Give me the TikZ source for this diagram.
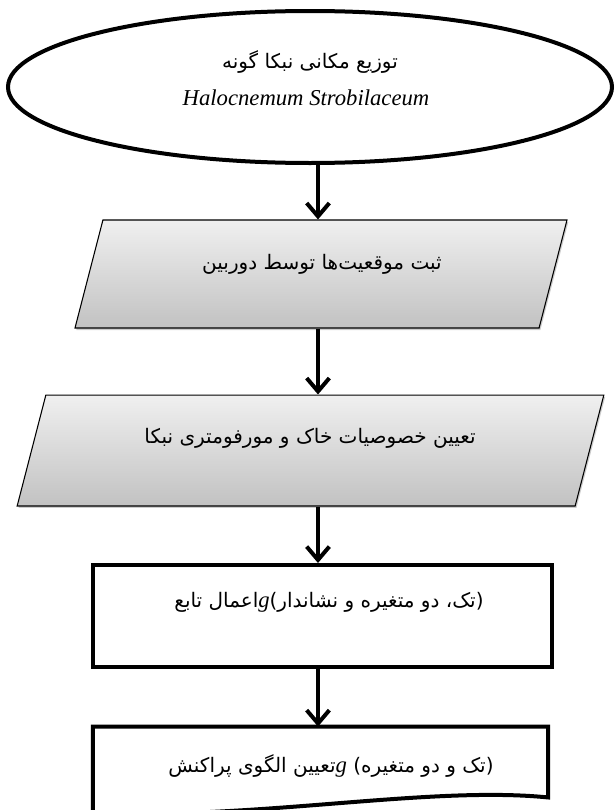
\documentclass[tikz,border=0pt]{standalone}
\usepackage{fontspec}
\setmainfont{Liberation Serif}
\newfontfamily\fafont[Script=Arabic]{DejaVu Sans}
\TeXXeTstate=1
\usetikzlibrary{shapes.geometric, arrows.meta, shadows}
\tikzset{
  latin/.style     = {font=\fontsize{17}{20}\selectfont},         % latin line
  farsi/.style     = {font=\fafont\fontsize{15}{18}\selectfont},  % persian lines
  startnode/.style = {ellipse, draw, line width=3pt,
                      minimum width=453pt, minimum height=114pt},
  iobox/.style     = {trapezium, trapezium stretches body,
                      trapezium left angle=75.5, trapezium right angle=104.5,
                      draw, line width=0.8pt, top color=gray!12, bottom color=gray!48,
                      drop shadow={shadow xshift=1pt, shadow yshift=-1.5pt, opacity=.4}},
  procbox/.style   = {rectangle, draw, line width=3pt, fill=white,
                      drop shadow={shadow xshift=1pt, shadow yshift=-1pt, opacity=.3}},
  flowline/.style  = {line width=3pt, -{Straight Barb[length=10pt, width=17pt]}}
}

\begin{document}
\begin{tikzpicture}[x=0.75pt, y=-0.75pt]
  \useasboundingbox (0,0) rectangle (616,810);
  % shapes
  \node[startnode] (ell) at (310,87) {};
  \node[iobox, minimum width=369pt, inner ysep=40.5pt] (b1) at (321,274) {};
  \node[iobox, minimum width=440pt, inner ysep=41.6pt] (b2) at (310.5,450.5) {};
  \node[procbox, minimum width=344pt, minimum height=76.5pt] (b3) at (322.5,616) {};
  \node[minimum width=341pt, minimum height=55pt, inner sep=0pt] (b4) at (320.5,763.5) {};
  \draw[line width=3pt, fill=white] (b4.north west) -- (b4.north east)
    -- ([shift={(0,-3)}]b4.south east)
    .. controls ([shift={(-120,-15)}]b4.south east) and ([shift={(160,20)}]b4.south west) ..
    ([shift={(0,12)}]b4.south west) -- cycle;
  % texts
  \node[farsi] (t0a) at (310,62) {\beginR توزیع مکانی نبکا گونه\endR};
  \node[latin] (t0b) at (306,98) {\textit{Halocnemum Strobilaceum}};
  \node[farsi] (t1) at (322,264) {\beginR ثبت موقعیت‌ها توسط دوربین\endR};
  \node[farsi] (t2) at (310,438) {\beginR تعیین خصوصیات خاک و مورفومتری نبکا\endR};
  \node[farsi] (t3) at (329,602)
    {\beginR اعمال تابع\endR{\rmfamily\fontsize{17}{20}\selectfont\textit{g}}\beginR(تک، دو متغیره و نشاندار)\endR};
  \node[farsi] (t4) at (331,766)
    {\beginR تعیین الگوی پراکنش\endR{\rmfamily\fontsize{17}{20}\selectfont\textit{g}} \beginR(تک و دو متغیره)\endR};
  % connectors
  \coordinate (axis) at (318,0);
  \draw[flowline] (axis |- ell.south) -- (axis |- b1.north);
  \draw[flowline] (axis |- b1.south) -- (axis |- b2.north);
  \draw[flowline] (axis |- b2.south) -- (axis |- b3.north);
  \draw[flowline] (axis |- b3.south) -- (axis |- b4.north);
\end{tikzpicture}
\end{document}
